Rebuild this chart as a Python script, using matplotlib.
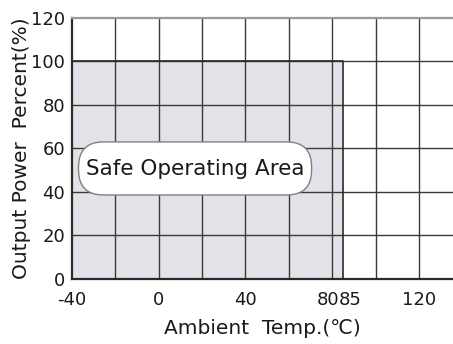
import matplotlib
matplotlib.use("Agg")
import matplotlib.pyplot as plt
from matplotlib.patches import FancyBboxPatch
import matplotlib.transforms as mtransforms


# derating curve data
temp = [-40, 85, 85]
power = [100, 100, 0]

x_ticks = [-40, 0, 40, 80, 85, 120]
y_ticks = [0, 20, 40, 60, 80, 100, 120]
grid_x = [-20, 0, 20, 40, 60, 80, 100, 120]
grid_y = [20, 40, 60, 80, 100]

area_label = "Safe Operating Area"


def main():

    fig = plt.figure( figsize=(4.53, 3.44), dpi=100 )

    ax = fig.add_axes( [0.159, 0.189, 0.841, 0.759] )

    ax.set_xlim( -40, 135.7 )

    ax.set_ylim( 0, 120 )

    # shaded safe area
    ax.fill_between( temp, power, 0, color="#e1e3e8", zorder=0, linewidth=0 )

    # grid
    for gx in grid_x:
        ax.axvline( gx, color="#3a3a3a", linewidth=1.0, zorder=1 )

    for gy in grid_y:
        ax.axhline( gy, color="#3a3a3a", linewidth=1.0, zorder=1 )

    ax.plot( temp, power, color="#2a2a2a", linewidth=1.2, zorder=2 )

    # spines
    ax.spines["right"].set_visible( False )
    ax.spines["top"].set_color( "#9a9a9a" )
    ax.spines["top"].set_linewidth( 1.6 )
    ax.spines["left"].set_color( "#2a2a2a" )
    ax.spines["left"].set_linewidth( 1.6 )
    ax.spines["bottom"].set_color( "#2a2a2a" )
    ax.spines["bottom"].set_linewidth( 1.6 )

    # rounded label box
    box = FancyBboxPatch( (-37, 38.6), 107.5, 24.4,
                          boxstyle="round,pad=0,rounding_size=11.5",
                          facecolor="white", edgecolor="#808080",
                          linewidth=1.0, zorder=3, mutation_aspect=1.0 )
    ax.add_patch( box )

    ax.text( 16.7, 50.5, area_label, ha="center", va="center",
             fontsize=15.5, color="#1a1a1a", zorder=4 )

    # ticks
    ax.set_xticks( x_ticks )
    ax.set_xticklabels( [str(v) for v in x_ticks] )
    ax.set_yticks( y_ticks )
    ax.set_yticklabels( [str(v) for v in y_ticks] )

    ax.tick_params( axis="both", length=0, labelsize=13, colors="#1a1a1a" )
    ax.tick_params( axis="x", pad=9 )
    ax.tick_params( axis="y", pad=5 )

    labels = ax.get_xticklabels()
    labels[3].set_ha( "right" )
    labels[3].set_transform( labels[3].get_transform()
                             + mtransforms.ScaledTranslation( 0.07, 0, fig.dpi_scale_trans ) )
    labels[4].set_ha( "left" )
    labels[4].set_transform( labels[4].get_transform()
                             + mtransforms.ScaledTranslation( -0.04, 0, fig.dpi_scale_trans ) )

    ax.set_xlabel( "Ambient  Temp.(℃)", fontsize=14.5, color="#1a1a1a", labelpad=7 )
    ax.set_ylabel( "Output Power  Percent(%)", fontsize=14.5, color="#1a1a1a", labelpad=0 )

    fig.savefig( "out.png", dpi=100 )


if __name__ == "__main__":
    main()
